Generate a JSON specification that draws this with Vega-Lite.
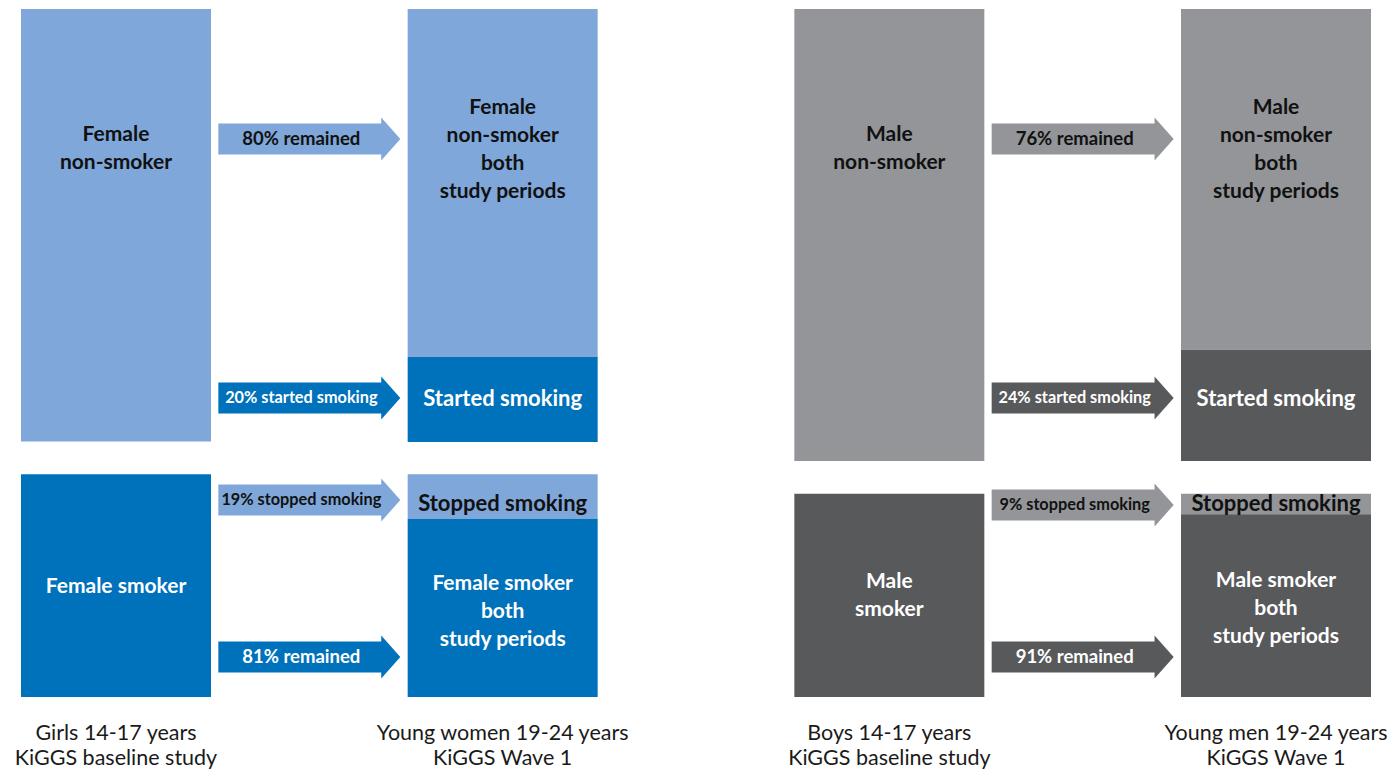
{
  "$schema": "https://vega.github.io/schema/vega-lite/v6.json",
  "width": 1389,
  "height": 769,
  "autosize": "none",
  "padding": 0,
  "background": "white",
  "config": {"view": {"stroke": null}, "font": "Lato"},
  "datasets": {
    "boxes": [
      {"col": "GB", "group": "Female non-smoker", "start": 0, "end": 66},
      {"col": "GB", "group": "Female smoker", "start": 71, "end": 105},
      {"col": "GW", "group": "Female non-smoker", "start": 0, "end": 53.1},
      {"col": "GW", "group": "Female smoker", "start": 53.1, "end": 66.1},
      {"col": "GW", "group": "Female non-smoker", "start": 71, "end": 77.8},
      {"col": "GW", "group": "Female smoker", "start": 77.8, "end": 105},
      {"col": "BB", "group": "Male non-smoker", "start": 0, "end": 69},
      {"col": "BB", "group": "Male smoker", "start": 74, "end": 105},
      {"col": "BW", "group": "Male non-smoker", "start": 0, "end": 52},
      {"col": "BW", "group": "Male smoker", "start": 52, "end": 69},
      {"col": "BW", "group": "Male non-smoker", "start": 74, "end": 77.1},
      {"col": "BW", "group": "Male smoker", "start": 77.1, "end": 105}
    ],
    "labels": [
      {"col": "GB", "group": "Female non-smoker", "y": 19.23, "text": "Female\nnon-smoker"},
      {"col": "GW", "group": "Female non-smoker", "y": 15.1, "text": "Female\nnon-smoker\nboth\nstudy periods"},
      {"col": "GW", "group": "Female smoker", "y": 59.5, "text": "Started smoking"},
      {"col": "GW", "group": "Female non-smoker", "y": 75.55, "text": "Stopped smoking"},
      {"col": "GB", "group": "Female smoker", "y": 88.2, "text": "Female smoker"},
      {"col": "GW", "group": "Female smoker", "y": 87.75, "text": "Female smoker\nboth\nstudy periods"},
      {"col": "BB", "group": "Male non-smoker", "y": 19.23, "text": "Male\nnon-smoker"},
      {"col": "BW", "group": "Male non-smoker", "y": 15.1, "text": "Male\nnon-smoker\nboth\nstudy periods"},
      {"col": "BW", "group": "Male smoker", "y": 59.5, "text": "Started smoking"},
      {"col": "BW", "group": "Male non-smoker", "y": 75.55, "text": "Stopped smoking"},
      {"col": "BB", "group": "Male smoker", "y": 87.45, "text": "Male\nsmoker"},
      {"col": "BW", "group": "Male smoker", "y": 87.29, "text": "Male smoker\nboth\nstudy periods"}
    ],
    "arrows": [
      {"col": "GA", "group": "Female non-smoker", "y": 19.84, "text": "80% remained"},
      {"col": "GA", "group": "Female smoker", "y": 59.37, "text": "20% started smoking"},
      {"col": "GA", "group": "Female non-smoker", "y": 74.94, "text": "19% stopped smoking"},
      {"col": "GA", "group": "Female smoker", "y": 98.9, "text": "81% remained"},
      {"col": "BA", "group": "Male non-smoker", "y": 19.84, "text": "76% remained"},
      {"col": "BA", "group": "Male smoker", "y": 59.37, "text": "24% started smoking"},
      {"col": "BA", "group": "Male non-smoker", "y": 75.7, "text": "9% stopped smoking"},
      {"col": "BA", "group": "Male smoker", "y": 98.9, "text": "91% remained"}
    ],
    "bottom": [
      {"col": "GB", "y": 110.65, "text": "Girls 14-17 years\nKiGGS baseline study"},
      {"col": "GW", "y": 110.65, "text": "Young women 19-24 years\nKiGGS Wave 1"},
      {"col": "BB", "y": 110.65, "text": "Boys 14-17 years\nKiGGS baseline study"},
      {"col": "BW", "y": 110.65, "text": "Young men 19-24 years\nKiGGS Wave 1"}
    ]
  },
  "layer": [
    {
      "data": {"name": "boxes"},
      "mark": {"type": "rect", "strokeWidth": 0},
      "encoding": {
        "x": {"field": "col", "type": "nominal", "axis": null,
          "scale": {"domain": ["GB", "GA", "GW", "gap", "BB", "BA", "BW"], "range": [21, 1371], "paddingInner": 0.01724, "paddingOuter": 0}},
        "y": {"field": "start", "type": "quantitative", "axis": null,
          "scale": {"domain": [-1.374, 116.0], "reverse": true, "nice": false, "zero": false}},
        "y2": {"field": "end"},
        "color": {"field": "group", "type": "nominal", "legend": null,
          "scale": {"domain": ["Female non-smoker", "Female smoker", "Male non-smoker", "Male smoker"], "range": ["#7FA7D9", "#0072BB", "#939598", "#58595B"]}}
      }
    },
    {
      "data": {"name": "arrows"},
      "mark": {"type": "point", "filled": true, "opacity": 1, "strokeWidth": 0,
        "shape": "M-1,-0.17L0.79,-0.17L0.79,-0.236L1,0L0.79,0.236L0.79,0.17L-1,0.17Z", "size": 33124},
      "encoding": {
        "x": {"field": "col", "type": "nominal"},
        "y": {"field": "y", "type": "quantitative"},
        "color": {"field": "group", "type": "nominal"}
      }
    },
    {
      "data": {"name": "arrows"},
      "mark": {"type": "text", "fontWeight": "bold", "dx": -8, "baseline": "middle", "align": "center"},
      "encoding": {
        "x": {"field": "col", "type": "nominal"},
        "y": {"field": "y", "type": "quantitative"},
        "text": {"field": "text"},
        "size": {"condition": {"test": {"field": "text", "oneOf": ["80% remained", "81% remained", "76% remained", "91% remained"]}, "value": 18.5}, "value": 16.3},
        "color": {"condition": {"test": {"field": "group", "oneOf": ["Female non-smoker", "Male non-smoker"]}, "value": "#111111"}, "value": "#ffffff"}
      }
    },
    {
      "data": {"name": "labels"},
      "mark": {"type": "text", "fontWeight": "bold", "lineHeight": 28, "lineBreak": "\n", "baseline": "middle", "align": "center"},
      "encoding": {
        "x": {"field": "col", "type": "nominal"},
        "y": {"field": "y", "type": "quantitative"},
        "text": {"field": "text"},
        "size": {"condition": {"test": {"field": "text", "oneOf": ["Started smoking", "Stopped smoking"]}, "value": 22}, "value": 21},
        "color": {"condition": {"test": {"field": "group", "oneOf": ["Female non-smoker", "Male non-smoker"]}, "value": "#111111"}, "value": "#ffffff"}
      }
    },
    {
      "data": {"name": "bottom"},
      "mark": {"type": "text", "fontSize": 21.5, "lineHeight": 25, "lineBreak": "\n", "baseline": "middle", "align": "center", "color": "#1a1a1a"},
      "encoding": {
        "x": {"field": "col", "type": "nominal"},
        "y": {"field": "y", "type": "quantitative"},
        "text": {"field": "text"}
      }
    }
  ]
}
